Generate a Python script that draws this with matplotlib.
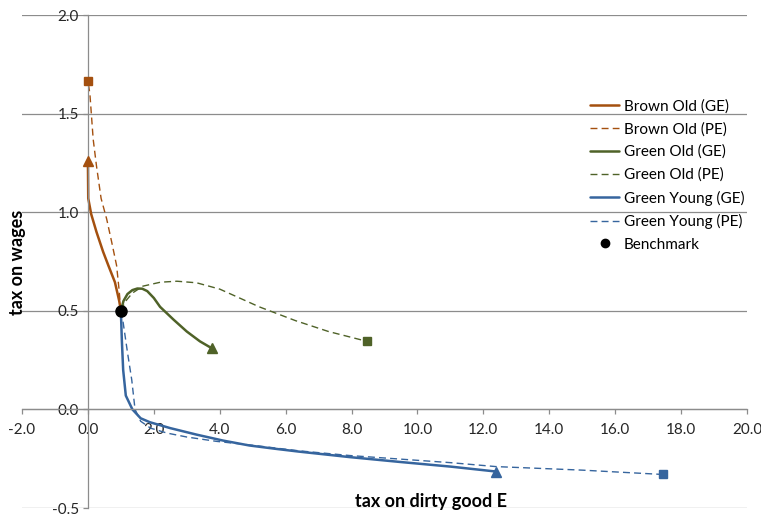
import matplotlib.pyplot as plt
from matplotlib.lines import Line2D

plt.rcParams['font.family'] = ['Lato', 'DejaVu Sans']

# curves of (tax on dirty good E, tax on wages), starting at the benchmark
brown_ge_x = [1.0, 0.95, 0.82, 0.62, 0.46, 0.26, 0.10, 0.01, 0.0]
brown_ge_y = [0.5, 0.55, 0.645, 0.73, 0.80, 0.90, 0.99, 1.07, 1.26]

brown_pe_x = [1.0, 0.95, 0.87, 0.72, 0.57, 0.40, 0.26, 0.16, 0.06, 0.0]
brown_pe_y = [0.5, 0.60, 0.73, 0.85, 0.965, 1.07, 1.235, 1.37, 1.60, 1.665]

green_old_ge_x = [1.0, 1.08, 1.2, 1.35, 1.5, 1.65, 1.8, 2.0, 2.19, 2.6, 3.0, 3.4, 3.76]
green_old_ge_y = [0.5, 0.55, 0.585, 0.605, 0.613, 0.612, 0.60, 0.565, 0.52, 0.455, 0.395, 0.345, 0.31]

green_old_pe_x = [1.0, 1.15, 1.35, 1.67, 2.2, 2.7, 3.3, 4.0, 4.6, 5.2, 6.3, 7.3, 8.47]
green_old_pe_y = [0.5, 0.55, 0.59, 0.625, 0.645, 0.65, 0.642, 0.61, 0.565, 0.52, 0.45, 0.395, 0.345]

green_young_ge_x = [1.0, 1.03, 1.07, 1.15, 1.35, 1.6, 1.88, 2.5, 3.3, 4.1, 4.9, 5.7, 6.4, 7.95, 9.5, 11.0, 12.38]
green_young_ge_y = [0.5, 0.35, 0.2, 0.07, 0.0, -0.045, -0.065, -0.095, -0.128, -0.158, -0.183, -0.2, -0.214, -0.242, -0.267, -0.29, -0.315]

green_young_pe_x = [1.0, 1.07, 1.2, 1.33, 1.43, 1.6, 1.9, 2.4, 3.0, 3.9, 4.9, 6.4, 7.95, 11.0, 12.38, 15.0, 17.45]
green_young_pe_y = [0.5, 0.44, 0.29, 0.15, 0.0, -0.06, -0.095, -0.12, -0.14, -0.162, -0.18, -0.21, -0.234, -0.27, -0.29, -0.308, -0.33]

benchmark = (1.0, 0.5)

brown = '#A4500F'
green = '#4F6228'
blue = '#36659E'

fig = plt.figure(figsize=(7.61, 5.15), dpi=100)
ax = fig.add_axes([22 / 761, 1 - 508 / 515, 725 / 761, 493 / 515])

solid = dict(lw=1.8, solid_capstyle='round', solid_joinstyle='round')
dashed = dict(lw=1.0, ls=(0, (5, 3)))

ax.plot(brown_ge_x, brown_ge_y, color=brown, label='Brown Old (GE)', **solid)
ax.plot(brown_pe_x, brown_pe_y, color=brown, label='Brown Old (PE)', **dashed)
ax.plot(green_old_ge_x, green_old_ge_y, color=green, label='Green Old (GE)', **solid)
ax.plot(green_old_pe_x, green_old_pe_y, color=green, label='Green Old (PE)', **dashed)
ax.plot(green_young_ge_x, green_young_ge_y, color=blue, label='Green Young (GE)', **solid)
ax.plot(green_young_pe_x, green_young_pe_y, color=blue, label='Green Young (PE)', **dashed)

# end markers: triangle for GE, square for PE
for xs, ys, c in [(brown_ge_x, brown_ge_y, brown), (green_old_ge_x, green_old_ge_y, green),
                  (green_young_ge_x, green_young_ge_y, blue)]:
    ax.plot(xs[-1], ys[-1], marker='^', ms=7.5, color=c, ls='none', zorder=4)
for xs, ys, c in [(brown_pe_x, brown_pe_y, brown), (green_old_pe_x, green_old_pe_y, green),
                  (green_young_pe_x, green_young_pe_y, blue)]:
    ax.plot(xs[-1], ys[-1], marker='s', ms=6, color=c, ls='none', zorder=4)

ax.plot(*benchmark, marker='o', ms=8, color='black', ls='none', zorder=5)

ax.set_xlim(-2, 20)
ax.set_ylim(-0.5, 2.0)
ax.set_xticks([-2 + 2 * i for i in range(12)])
ax.set_yticks([-0.5, 0.0, 0.5, 1.0, 1.5, 2.0])
ax.xaxis.set_major_formatter(lambda v, p: f'{v:.1f}')
ax.yaxis.set_major_formatter(lambda v, p: f'{v:.1f}')

grey = '#8C8C8C'
ax.yaxis.grid(True, color=grey, lw=0.9)
ax.set_axisbelow(True)
for s in ['top', 'right']:
    ax.spines[s].set_visible(False)
ax.spines['left'].set_position(('data', 0))
ax.spines['bottom'].set_position(('data', 0))
for s in ['left', 'bottom']:
    ax.spines[s].set_color(grey)
    ax.spines[s].set_linewidth(0.9)
ax.tick_params(axis='both', colors=grey, labelcolor='#262626', labelsize=11,
               length=3.5, width=0.9, direction='out')
ax.tick_params(axis='x', pad=6)
ax.tick_params(axis='y', pad=3)

fig.text(18 / 761, 1 - 262 / 515, 'tax on wages', rotation=90, ha='center', va='center',
         fontsize=13, fontweight='bold')
fig.text(431 / 761, 1 - 502 / 515, 'tax on dirty good E', ha='center', va='center',
         fontsize=13, fontweight='bold')

handles, labels = ax.get_legend_handles_labels()
handles.append(Line2D([], [], marker='o', ms=6, color='black', ls='none'))
labels.append('Benchmark')
ax.legend(handles, labels, loc='upper left', bbox_to_anchor=(590 / 761, 1 - 99 / 515),
          bbox_transform=fig.transFigure, frameon=False, fontsize=11,
          handlelength=1.9, handletextpad=0.3, labelspacing=0.56,
          borderpad=0, borderaxespad=0)

fig.savefig('out.png', dpi=100)
